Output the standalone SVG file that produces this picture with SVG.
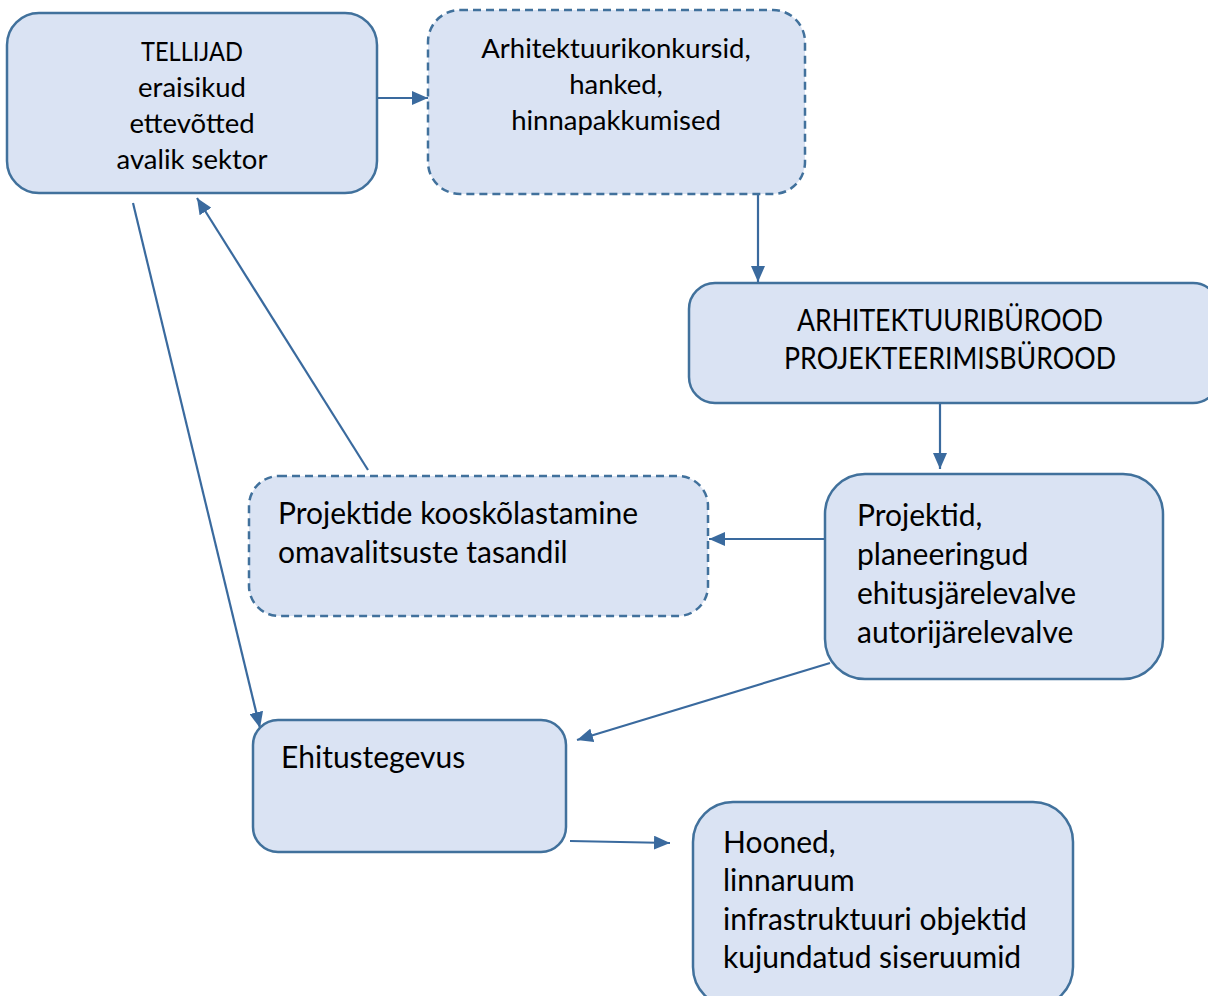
<svg xmlns="http://www.w3.org/2000/svg" width="1208" height="996" viewBox="0 0 1208 996">
<defs>
<style>
.box{fill:#DAE3F3;stroke:#41719C;stroke-width:2.5}
.dash{stroke-dasharray:8 5}
.t{font-family:Lato,"Open Sans",sans-serif;fill:#000}
.s{font-size:27.5px}
.m{font-size:30px}
.c{text-anchor:middle}
.conn{stroke:#3A6A9E;stroke-width:2.2;fill:none;marker-end:url(#ah)}
</style>
<marker id="ah" markerUnits="userSpaceOnUse" viewBox="0 0 16 14" refX="16" refY="7" markerWidth="16" markerHeight="14" orient="auto">
<path d="M0,0 L16,7 L0,14 Z" fill="#3A6A9E"/>
</marker>
</defs>
<rect width="1208" height="996" fill="#fff"/>
<g id="connectors">
<line class="conn" x1="378" y1="98" x2="428" y2="98"/>
<line class="conn" x1="758" y1="195" x2="758" y2="282"/>
<line class="conn" x1="940" y1="402" x2="940" y2="469"/>
<line class="conn" x1="824" y1="539" x2="709" y2="539"/>
<line class="conn" x1="368" y1="470" x2="197" y2="198"/>
<line class="conn" x1="133" y1="203" x2="260" y2="728"/>
<line class="conn" x1="830" y1="663" x2="577" y2="740"/>
<line class="conn" x1="570" y1="841" x2="670" y2="843"/>
</g>
<g id="tellijad">
<rect class="box" x="7" y="13" width="370" height="180" rx="32"/>
<text class="t s c"><tspan x="192" y="61" textLength="102" lengthAdjust="spacingAndGlyphs">TELLIJAD</tspan></text>
<text class="t s c"><tspan x="192" y="97">eraisikud</tspan><tspan x="192" y="133">ettevõtted</tspan><tspan x="192" y="169">avalik sektor</tspan></text>
</g>
<g id="konkursid">
<rect class="box dash" x="428" y="10" width="377" height="184" rx="32"/>
<text class="t s c"><tspan x="616" y="58">Arhitektuurikonkursid,</tspan><tspan x="616" y="94">hanked,</tspan><tspan x="616" y="130">hinnapakkumised</tspan></text>
</g>
<g id="burood">
<rect class="box" x="689" y="283" width="530" height="120" rx="26"/>
<text class="t m c" x="950" y="331" textLength="306" lengthAdjust="spacingAndGlyphs">ARHITEKTUURIBÜROOD</text>
<text class="t m c" x="950" y="369" textLength="332" lengthAdjust="spacingAndGlyphs">PROJEKTEERIMISBÜROOD</text>
</g>
<g id="projektid">
<rect class="box" x="825" y="474" width="338" height="205" rx="40"/>
<text class="t m"><tspan x="857" y="526">Projektid,</tspan><tspan x="857" y="565">planeeringud</tspan><tspan x="857" y="604">ehitusjärelevalve</tspan><tspan x="857" y="643">autorijärelevalve</tspan></text>
</g>
<g id="kooskolastamine">
<rect class="box dash" x="249" y="476" width="459" height="140" rx="30"/>
<text class="t m"><tspan x="278" y="524">Projektide kooskõlastamine</tspan><tspan x="278" y="563">omavalitsuste tasandil</tspan></text>
</g>
<g id="ehitustegevus">
<rect class="box" x="253" y="720" width="313" height="132" rx="25"/>
<text class="t m" x="281" y="768">Ehitustegevus</text>
</g>
<g id="hooned">
<rect class="box" x="693" y="802" width="380" height="205" rx="40"/>
<text class="t m"><tspan x="723" y="853">Hooned,</tspan><tspan x="723" y="891">linnaruum</tspan><tspan x="723" y="930">infrastruktuuri objektid</tspan><tspan x="723" y="968">kujundatud siseruumid</tspan></text>
</g>
</svg>
